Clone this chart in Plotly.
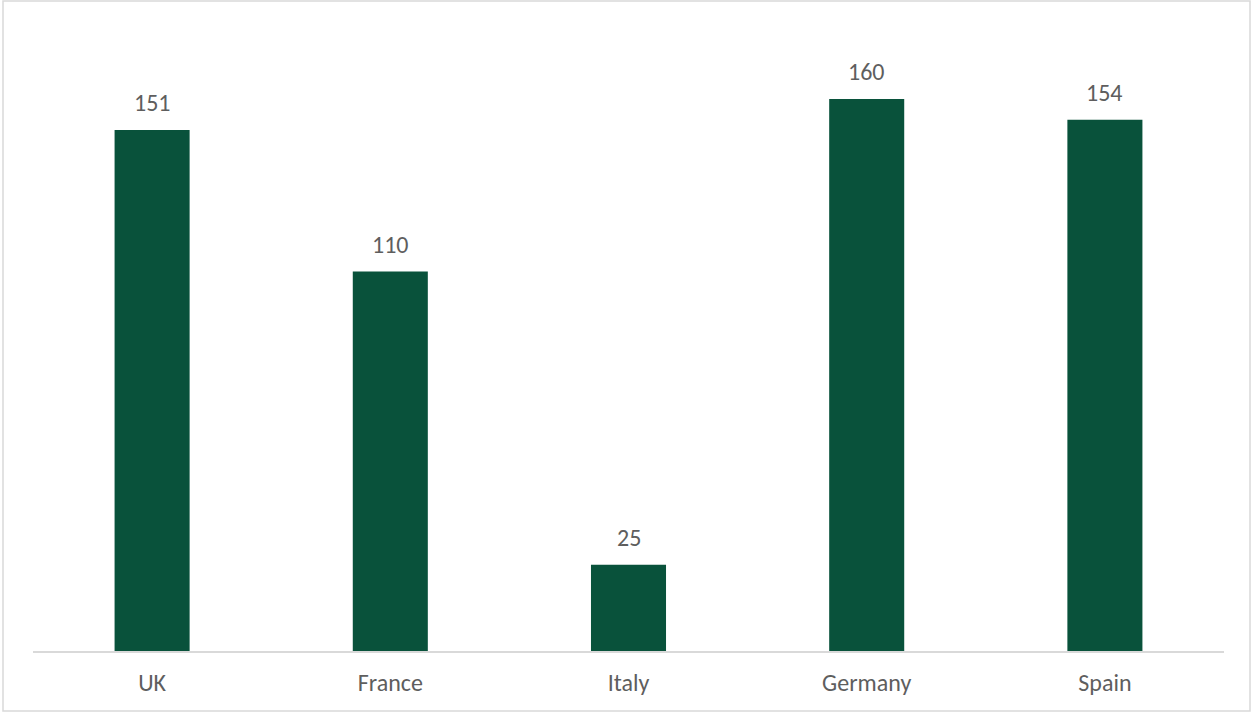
import plotly.graph_objects as go

countries = ["UK", "France", "Italy", "Germany", "Spain"]
values = [151, 110, 25, 160, 154]

BAR = "#09523B"
GRAY = "#5E5E5E"
LINE = "#D9D9D9"
FONT = "Carlito, Lato, 'Open Sans', sans-serif"

fig = go.Figure(go.Bar(
    x=countries, y=values, marker=dict(color=BAR, line=dict(width=0)),
    hoverinfo="skip"))

for c, v in zip(countries, values):
    fig.add_annotation(x=c, y=v, text=str(v), showarrow=False,
                       yanchor="bottom", yshift=11,
                       font=dict(family=FONT, size=24, color=GRAY))

W, H = 1253, 713
l, r, t, b = 33, 29, 30, 62
pw, ph = W - l - r, H - t - b
bx0, bx1, by0, by1 = 3, 1250, 1, 711
fig.add_shape(type="rect", xref="paper", yref="paper",
              x0=(bx0 - l) / pw, x1=(bx1 - l) / pw,
              y0=(H - b - by1) / ph, y1=(H - b - by0) / ph,
              line=dict(color=LINE, width=1.5), fillcolor="rgba(0,0,0,0)", layer="below")

fig.update_layout(
    width=W, height=H, margin=dict(l=l, r=r, t=t, b=b),
    paper_bgcolor="white", plot_bgcolor="white", bargap=0.685,
    showlegend=False,
    xaxis=dict(showline=True, linecolor=LINE, linewidth=1.5, ticks="",
               tickfont=dict(family=FONT, size=24, color=GRAY),
               ticklabelstandoff=9, fixedrange=True),
    yaxis=dict(range=[0, 180], visible=False, showgrid=False, fixedrange=True),
)

fig.write_html("out.html", config={"displayModeBar": False},
               post_script="document.body.style.margin='0';document.body.style.overflow='hidden';")
